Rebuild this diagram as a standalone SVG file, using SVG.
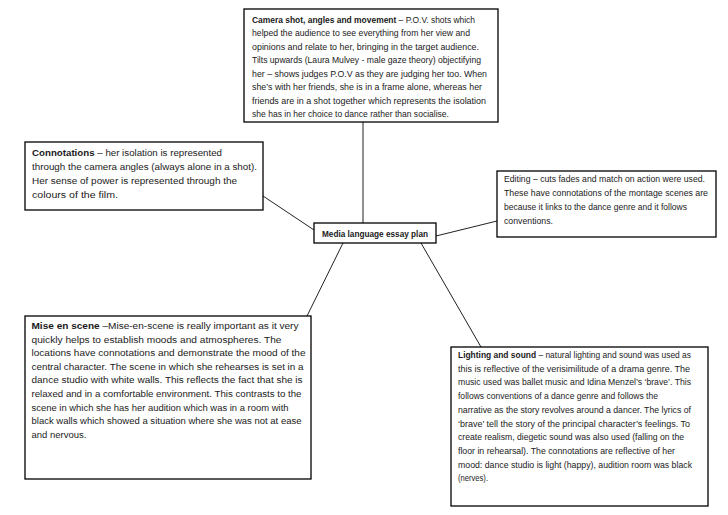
<svg xmlns="http://www.w3.org/2000/svg" width="728" height="515" viewBox="0 0 728 515">
<style>
.box{fill:#fff;stroke:#000;stroke-width:1.3}
.t{font-family:"Liberation Sans",Arial,sans-serif;font-size:8.6px;fill:#1a1a1a}
.l{font-size:9.2px}
.b{font-weight:bold}
.c{stroke:#222;stroke-width:1;fill:none}
</style>
<rect width="728" height="515" fill="#fff"/>
<g id="connectors">
<line class="c" x1="363" y1="122" x2="363" y2="223"/>
<line class="c" x1="263" y1="196" x2="314" y2="230"/>
<line class="c" x1="436" y1="236" x2="497" y2="221"/>
<line class="c" x1="343" y1="243" x2="307" y2="316"/>
<line class="c" x1="421" y1="243" x2="481" y2="347"/>
</g>
<g id="camera">
<rect class="box" x="244" y="9" width="254" height="113"/>
<text class="t" x="252" y="22.5" textLength="223" lengthAdjust="spacingAndGlyphs"><tspan class="b">Camera shot, angles and movement</tspan> – P.O.V. shots which</text>
<text class="t" x="252" y="36" textLength="218" lengthAdjust="spacingAndGlyphs">helped the audience to see everything from her view and</text>
<text class="t" x="252" y="49.5" textLength="227" lengthAdjust="spacingAndGlyphs">opinions and relate to her, bringing in the target audience.</text>
<text class="t" x="252" y="63" textLength="229" lengthAdjust="spacingAndGlyphs">Tilts upwards (Laura Mulvey - male gaze theory) objectifying</text>
<text class="t" x="252" y="76.5" textLength="235" lengthAdjust="spacingAndGlyphs">her – shows judges P.O.V as they are judging her too. When</text>
<text class="t" x="252" y="90" textLength="230" lengthAdjust="spacingAndGlyphs">she’s with her friends, she is in a frame alone, whereas her</text>
<text class="t" x="252" y="103.5" textLength="234" lengthAdjust="spacingAndGlyphs">friends are in a shot together which represents the isolation</text>
<text class="t" x="252" y="117" textLength="197" lengthAdjust="spacingAndGlyphs">she has in her choice to dance rather than socialise.</text>
</g>
<g id="connotations">
<rect class="box" x="25" y="142" width="238" height="68"/>
<text class="t l" x="32" y="155.5" textLength="190" lengthAdjust="spacingAndGlyphs"><tspan class="b">Connotations</tspan> – her isolation is represented</text>
<text class="t l" x="32" y="169.5" textLength="225" lengthAdjust="spacingAndGlyphs">through the camera angles (always alone in a shot).</text>
<text class="t l" x="32" y="183.5" textLength="205" lengthAdjust="spacingAndGlyphs">Her sense of power is represented through the</text>
<text class="t l" x="32" y="197.5" textLength="86" lengthAdjust="spacingAndGlyphs">colours of the film.</text>
</g>
<g id="center">
<rect class="box" x="314" y="223" width="122" height="20"/>
<text class="t b" x="322" y="236.5" textLength="106" lengthAdjust="spacingAndGlyphs">Media language essay plan</text>
</g>
<g id="editing">
<rect class="box" x="497" y="171" width="219" height="66"/>
<text class="t" x="504" y="182" textLength="201" lengthAdjust="spacingAndGlyphs">Editing – cuts fades and match on action were used.</text>
<text class="t" x="504" y="196" textLength="204" lengthAdjust="spacingAndGlyphs">These have connotations of the montage scenes are</text>
<text class="t" x="504" y="210" textLength="183" lengthAdjust="spacingAndGlyphs">because it links to the dance genre and it follows</text>
<text class="t" x="504" y="224" textLength="49" lengthAdjust="spacingAndGlyphs">conventions.</text>
</g>
<g id="mise">
<rect class="box" x="25" y="316" width="286" height="163"/>
<text class="t l" x="31.5" y="329" textLength="267" lengthAdjust="spacingAndGlyphs"><tspan class="b">Mise en scene</tspan> –Mise-en-scene is really important as it very</text>
<text class="t l" x="31.5" y="342.6" textLength="250" lengthAdjust="spacingAndGlyphs">quickly helps to establish moods and atmospheres. The</text>
<text class="t l" x="31.5" y="356.2" textLength="274" lengthAdjust="spacingAndGlyphs">locations have connotations and demonstrate the mood of the</text>
<text class="t l" x="31.5" y="369.8" textLength="272" lengthAdjust="spacingAndGlyphs">central character. The scene in which she rehearses is set in a</text>
<text class="t l" x="31.5" y="383.4" textLength="271" lengthAdjust="spacingAndGlyphs">dance studio with white walls. This reflects the fact that she is</text>
<text class="t l" x="31.5" y="397" textLength="270" lengthAdjust="spacingAndGlyphs">relaxed and in a comfortable environment. This contrasts to the</text>
<text class="t l" x="31.5" y="410.6" textLength="257" lengthAdjust="spacingAndGlyphs">scene in which she has her audition which was in a room with</text>
<text class="t l" x="31.5" y="424.2" textLength="270" lengthAdjust="spacingAndGlyphs">black walls which showed a situation where she was not at ease</text>
<text class="t l" x="31.5" y="437.8" textLength="55" lengthAdjust="spacingAndGlyphs">and nervous.</text>
</g>
<g id="lighting">
<rect class="box" x="451" y="347" width="257" height="159"/>
<text class="t" x="458" y="358" textLength="233" lengthAdjust="spacingAndGlyphs"><tspan class="b">Lighting and sound</tspan> – natural lighting and sound was used as</text>
<text class="t" x="458" y="371.7" textLength="232" lengthAdjust="spacingAndGlyphs">this is reflective of the verisimilitude of a drama genre. The</text>
<text class="t" x="458" y="385.4" textLength="233" lengthAdjust="spacingAndGlyphs">music used was ballet music and Idina Menzel’s ‘brave’. This</text>
<text class="t" x="458" y="399.1" textLength="200" lengthAdjust="spacingAndGlyphs">follows conventions of a dance genre and follows the</text>
<text class="t" x="458" y="412.8" textLength="233" lengthAdjust="spacingAndGlyphs">narrative as the story revolves around a dancer. The lyrics of</text>
<text class="t" x="458" y="426.5" textLength="232" lengthAdjust="spacingAndGlyphs">‘brave’ tell the story of the principal character’s feelings. To</text>
<text class="t" x="458" y="440.2" textLength="226" lengthAdjust="spacingAndGlyphs">create realism, diegetic sound was also used (falling on the</text>
<text class="t" x="458" y="453.9" textLength="217" lengthAdjust="spacingAndGlyphs">floor in rehearsal). The connotations are reflective of her</text>
<text class="t" x="458" y="467.6" textLength="234" lengthAdjust="spacingAndGlyphs">mood: dance studio is light (happy), audition room was black</text>
<text class="t" x="458" y="481.3" textLength="30" lengthAdjust="spacingAndGlyphs">(nerves).</text>
</g>
</svg>
